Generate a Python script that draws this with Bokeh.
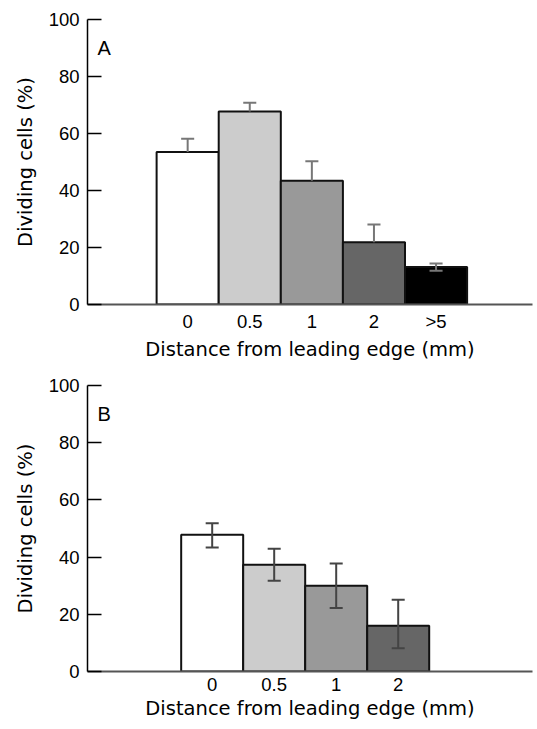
from bokeh.plotting import figure
from bokeh.layouts import column
from bokeh.models import FixedTicker, Label, ColumnDataSource
from bokeh.embed import file_html
from bokeh.resources import INLINE

# ---- data ----
categories_a = ["0", "0.5", "1", "2", ">5"]
values_a = [53.5, 67.7, 43.4, 21.8, 13.2]
err_upper_a = [58.2, 70.8, 50.3, 28.1, 14.4]
err_lower_a = [53.5, 67.7, 43.4, 21.8, 11.8]
colors_a = ["#ffffff", "#cccccc", "#999999", "#666666", "#000000"]

categories_b = ["0", "0.5", "1", "2"]
values_b = [47.8, 37.3, 30.0, 16.0]
err_upper_b = [51.8, 42.9, 37.8, 25.1]
err_lower_b = [43.4, 31.7, 22.2, 8.1]
colors_b = ["#ffffff", "#cccccc", "#999999", "#666666"]

y_ticks = [0, 20, 40, 60, 80, 100]
x_label = "Distance from leading edge (mm)"
y_label = "Dividing cells (%)"

TICK_FONT = "Liberation Sans"
LABEL_FONT = "DejaVu Sans"


def make_panel(cats, vals, up, lo, cols, letter, x_start, x_end, height,
               border_top, border_bottom, whisker_color):
    n = len(cats)
    idx = list(range(n))
    p = figure(width=537, height=height, x_range=(x_start, x_end), y_range=(0, 100),
               output_backend="svg", toolbar_location=None,
               min_border_left=87, min_border_right=5, min_border_top=border_top,
               min_border_bottom=border_bottom)
    p.outline_line_color = None
    p.xgrid.grid_line_color = None
    p.ygrid.grid_line_color = None
    p.background_fill_color = "white"
    p.border_fill_color = "white"

    src = ColumnDataSource(dict(x=idx, top=vals, color=cols, up=up, lo=lo,
                                cl=[i - 0.105 for i in idx], cr=[i + 0.105 for i in idx]))
    p.vbar(x="x", top="top", width=1.0, fill_color="color", line_color="#111111",
           line_width=2, source=src)
    p.segment(x0="x", y0="lo", x1="x", y1="up", line_color=whisker_color,
              line_width=2, source=src)
    p.segment(x0="cl", y0="up", x1="cr", y1="up", line_color=whisker_color,
              line_width=2, source=src)
    lo_src = ColumnDataSource(dict(
        cl=[i - 0.105 for i, l, v in zip(idx, lo, vals) if l < v],
        cr=[i + 0.105 for i, l, v in zip(idx, lo, vals) if l < v],
        lo=[l for l, v in zip(lo, vals) if l < v]))
    p.segment(x0="cl", y0="lo", x1="cr", y1="lo", line_color=whisker_color,
              line_width=2, source=lo_src)

    # y axis
    yax = p.yaxis[0]
    yax.ticker = FixedTicker(ticks=y_ticks)
    yax.major_tick_in = 14
    yax.major_tick_out = 0
    yax.minor_tick_line_color = None
    yax.axis_line_width = 1.5
    yax.axis_line_color = "black"
    yax.major_tick_line_width = 1.5
    yax.major_label_text_font = TICK_FONT
    yax.major_label_text_font_size = "18.5px"
    yax.major_label_text_color = "black"
    yax.major_label_standoff = 8
    yax.axis_label = y_label
    yax.axis_label_text_font = LABEL_FONT
    yax.axis_label_text_font_size = "19.5px"
    yax.axis_label_text_font_style = "normal"
    yax.axis_label_text_color = "black"
    yax.axis_label_standoff = 9

    # x axis
    xax = p.xaxis[0]
    xax.ticker = FixedTicker(ticks=idx)
    xax.major_label_overrides = {i: c for i, c in zip(idx, cats)}
    xax.major_tick_line_color = None
    xax.minor_tick_line_color = None
    xax.axis_line_color = "#555555"
    xax.axis_line_width = 2
    xax.major_label_text_font = TICK_FONT
    xax.major_label_text_font_size = "18.5px"
    xax.major_label_text_color = "black"
    xax.major_label_standoff = 0
    xax.axis_label = x_label
    xax.axis_label_text_font = LABEL_FONT
    xax.axis_label_text_font_size = "19.5px"
    xax.axis_label_text_font_style = "normal"
    xax.axis_label_text_color = "black"
    xax.axis_label_standoff = 3

    p.add_layout(Label(x=x_start, y=90, x_offset=10, text=letter,
                       text_font=TICK_FONT, text_font_size="20px",
                       text_color="black", text_baseline="alphabetic"))
    return p


pA = make_panel(categories_a, values_a, err_upper_a, err_lower_a, colors_a, "A",
                -1.613, 5.553, 364, 19, 60, "#777777")
pB = make_panel(categories_b, values_b, err_upper_b, err_lower_b, colors_b, "B",
                -2.011, 5.166, 365, 21, 58, "#444444")

layout = column(pA, pB, spacing=0)
open("out.html", "w").write(file_html(layout, INLINE))
